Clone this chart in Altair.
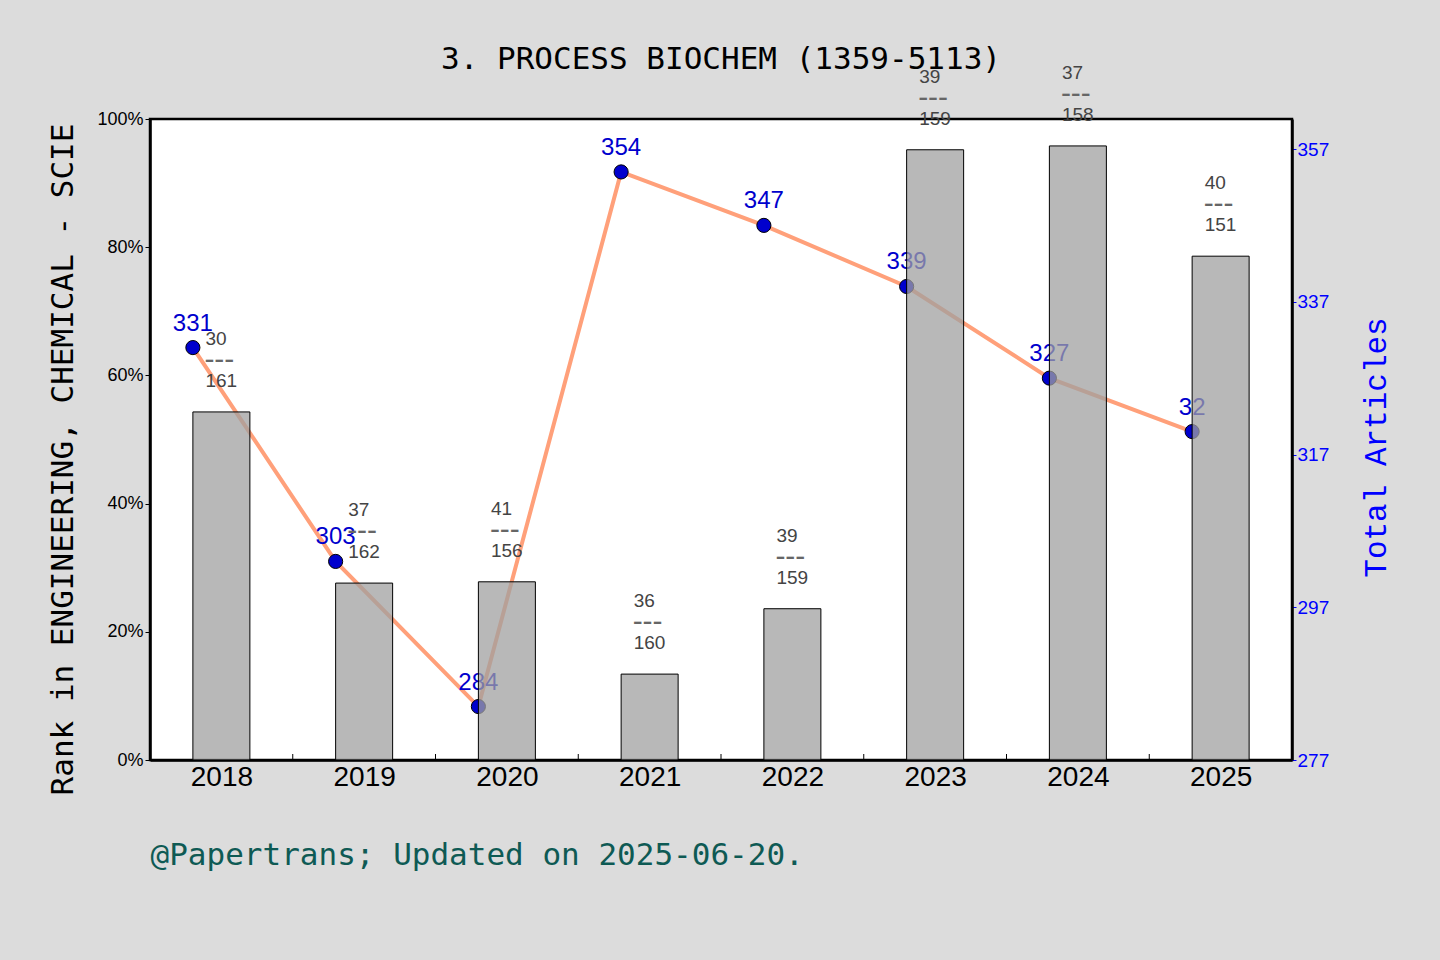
import altair as alt
import pandas as pd

years = [2018, 2019, 2020, 2021, 2022, 2023, 2024, 2025]
rank_pct = [0.543, 0.276, 0.278, 0.134, 0.236, 0.952, 0.958, 0.786]
rank_num = ["30", "37", "41", "36", "39", "39", "37", "40"]
rank_den = ["161", "162", "156", "160", "159", "159", "158", "151"]
articles = [331, 303, 284, 354, 347, 339, 327, 320]
article_labels = ["331", "303", "284", "354", "347", "339", "327", "32"]
minor_ticks = [2018.5, 2019.5, 2020.5, 2021.5, 2022.5, 2023.5, 2024.5]

df = pd.DataFrame({
    "year": years, "pct": rank_pct, "num": rank_num, "den": rank_den,
    "dash": ["---"] * len(years), "articles": articles, "alabel": article_labels,
})
df_minor = pd.DataFrame({"year": minor_ticks})

W, H = 1142, 641
MONO = "DejaVu Sans Mono"
SANS = "Liberation Sans"

x_axis = alt.Axis(
    values=years, format="d", ticks=False, grid=False,
    labelFont=SANS, labelFontSize=28, labelColor="black", labelPadding=3,
    domainColor="black", domainWidth=2.5,
    title="@Papertrans; Updated on 2025-06-20.",
    titleFont=MONO, titleFontSize=31, titleFontWeight="normal", titleColor="#0e5a54",
    titleX=0, titleY=95, titleAlign="left", titleBaseline="middle", titleAngle=0,
)
x_enc = alt.X("year:Q", scale=alt.Scale(domain=[2017.5, 2025.5], nice=False, zero=False, padding=0),
              axis=x_axis)

right_axis = alt.Axis(
    orient="right", values=[277, 297, 317, 337, 357], grid=False,
    labelFont=SANS, labelFontSize=19, labelColor="blue", labelPadding=1,
    tickColor="blue", tickSize=4, domainColor="black", domainWidth=2.5,
    title="Total Articles", titleFont="Liberation Mono", titleFontSize=31,
    titleFontWeight="normal", titleColor="blue", titleAngle=270,
    titleX=84, titleY=328, titleAlign="center", titleBaseline="middle",
)
y_right = alt.Y("articles:Q", scale=alt.Scale(domain=[277, 360.93], nice=False, zero=False), axis=right_axis)

left_axis = alt.Axis(
    orient="left", values=[0, 0.2, 0.4, 0.6, 0.8, 1.0], format=".0%", grid=False,
    labelFont=SANS, labelFontSize=18, labelColor="black", labelPadding=2,
    tickColor="black", tickSize=5, domainColor="black", domainWidth=2.5,
    title="Rank in ENGINEERING, CHEMICAL - SCIE", titleFont=MONO, titleFontSize=31,
    titleFontWeight="normal", titleColor="black", titleAngle=270,
    titleX=-87, titleY=340, titleAlign="center", titleBaseline="middle",
)
y_left = alt.Y("pct:Q", scale=alt.Scale(domain=[0, 1], nice=False), axis=left_axis)

base = alt.Chart(df)

line = base.mark_line(color="#FFA07A", strokeWidth=4, xOffset=-28.5).encode(x=x_enc, y=y_right)
points = base.mark_point(filled=True, shape="circle", size=200, color="#0000CD",
                         stroke="black", strokeWidth=1, opacity=1, xOffset=-28.5).encode(x=x_enc, y=y_right)
plabels = base.mark_text(font=SANS, fontSize=24, color="#0000CD", dy=-24, baseline="middle",
                         align="center", xOffset=-28.5).encode(x=x_enc, y=y_right, text="alabel:N")
line_group = alt.layer(line, points, plabels)

bars = base.mark_bar(size=57, color="#a0a0a0", fillOpacity=0.75, stroke="black",
                     strokeWidth=1, strokeOpacity=1).encode(x=x_enc, y=y_left)
num_t = base.mark_text(font=SANS, fontSize=19, color="#444444", align="left", baseline="middle",
                       dx=-16, dy=-73).encode(x=x_enc, y=y_left, text="num:N")
dash_t = base.mark_text(font=SANS, fontSize=30, color="#666666", align="left", baseline="middle",
                        dx=-17, dy=-52).encode(x=x_enc, y=y_left, text="dash:N")
den_t = base.mark_text(font=SANS, fontSize=19, color="#444444", align="left", baseline="middle",
                       dx=-16, dy=-31).encode(x=x_enc, y=y_left, text="den:N")
minor = alt.Chart(df_minor).mark_rule(color="black", strokeWidth=1).encode(
    x=x_enc, y=alt.value(H), y2=alt.value(H - 6))
bar_group = alt.layer(bars, num_t, dash_t, den_t, minor)

chart = alt.layer(line_group, bar_group).resolve_scale(y="independent").properties(
    width=W, height=H,
    title=alt.TitleParams("3. PROCESS BIOCHEM (1359-5113)", font=MONO, fontSize=31,
                          fontWeight="normal", color="black", anchor="middle", offset=-12),
    autosize=alt.AutoSizeParams(type="none"),
    padding={"left": 150, "top": 119, "right": 148, "bottom": 200},
    background="#dcdcdc",
).configure_view(fill="white", stroke="black", strokeWidth=2.5)

chart.save("out.html", embed_options={"renderer": "svg", "actions": False})
